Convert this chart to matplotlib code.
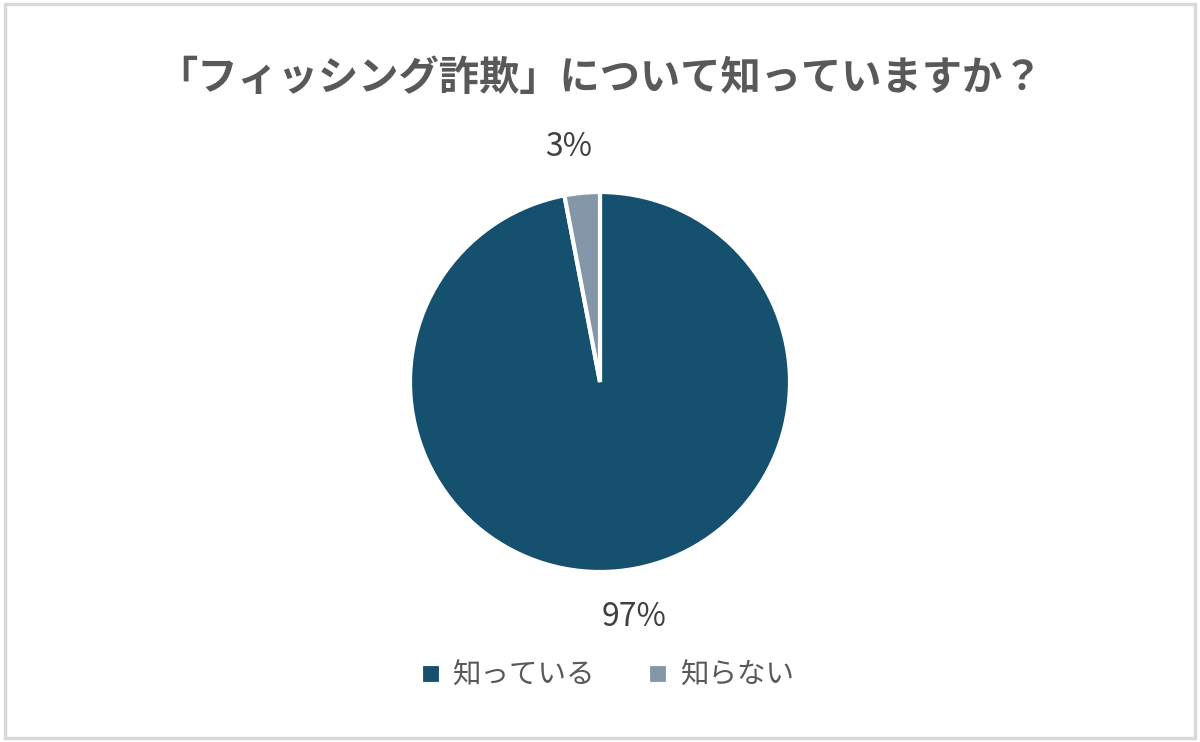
import matplotlib
matplotlib.use("Agg")
import matplotlib.pyplot as plt
from matplotlib.patches import Rectangle

plt.rcParams['font.family'] = ['Noto Sans CJK JP', 'DejaVu Sans']

title = "「フィッシング詐欺」について知っていますか？"
labels = ["知っている", "知らない"]
values = [97, 3]
colors = ["#15506e", "#8497a8"]

fig = plt.figure(figsize=(12, 7.42), dpi=100)
fig.patches.append(Rectangle((0.004, 0.006), 0.992, 0.988, transform=fig.transFigure,
                             fill=False, edgecolor="#d9d9d9", linewidth=2.5))

# pie centre ~ (600, 382) px, radius ~ 190 px
ax = fig.add_axes([(600 - 190) / 1200, (742 - 382 - 190) / 742, 380 / 1200, 380 / 742])
wedges, texts = ax.pie(values, colors=colors, startangle=90, counterclock=False,
                       labels=[f"{v}%" for v in values], labeldistance=1.24,
                       wedgeprops=dict(edgecolor="white", linewidth=3))
for t in texts:
    t.set_fontsize(23)
    t.set_color("#404040")
    t.set_ha("center")
    t.set_va("center")
# nudge labels a bit further from the top/bottom, like the original
x, y = texts[0].get_position()
texts[0].set_position((x + 0.06, y))
x, y = texts[1].get_position()
texts[1].set_position((x - 0.05, y))
ax.set_xlim(-1, 1)
ax.set_ylim(-1, 1)
ax.set_aspect("equal")

fig.text(0.5, 1 - 78 / 742, title, ha="center", va="center", fontsize=29,
         fontweight="bold", color="#595959")

fig.legend(wedges, labels, loc="center", bbox_to_anchor=(0.506, 1 - 676 / 742),
           ncol=2, frameon=False, fontsize=20.5, handlelength=0.7, handleheight=0.7,
           handletextpad=0.4, columnspacing=1.9, labelcolor="#595959")

fig.savefig("out.png", dpi=100)
